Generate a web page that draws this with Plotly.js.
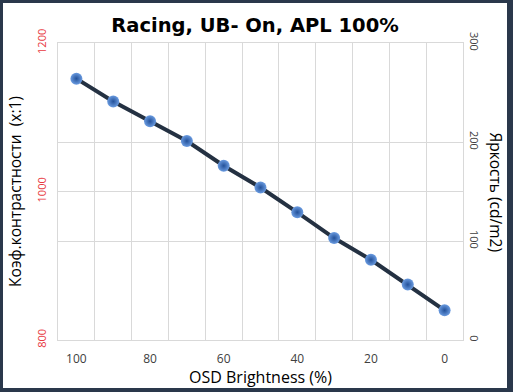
<!DOCTYPE html>
<html>
<head>
<meta charset="utf-8">
<script src="https://cdn.plot.ly/plotly-3.0.1.min.js"></script>
<style>
html,body{margin:0;padding:0;}
#frame{position:absolute;left:0;top:0;width:513px;height:392px;background:#2a384b;}
#chart{position:absolute;left:3px;top:3px;width:504px;height:385px;background:#fff;}
</style>
</head>
<body>
<div id="frame"><div id="chart"></div></div>
<script>
// OSD brightness settings (%)
var osdBrightness = [100, 90, 80, 70, 60, 50, 40, 30, 20, 10, 0];
// Luminance, cd/m2 (right axis)
var luminance = [264, 241, 221, 201, 176, 154, 129, 103, 81, 56, 30];
// Labelled x ticks
var xTickLabels = [100, 80, 60, 40, 20, 0];

var gridColor = '#d9d9d9';
var minorGrid = osdBrightness.slice(0, -1).map(function(v){ return v - 5; });

var trace = {
  x: osdBrightness,
  y: luminance,
  yaxis: 'y2',
  type: 'scatter',
  mode: 'lines+markers',
  line: {color: '#243142', width: 4},
  marker: {
    size: 12,
    color: '#6a9be0',
    gradient: {type: 'radial', color: '#23519a'},
    line: {width: 0}
  },
  showlegend: false,
  hoverinfo: 'x+y'
};

// invisible trace to keep the left axis active
var dummy = {
  x: [osdBrightness[0]], y: [1000], yaxis: 'y', type: 'scatter', mode: 'markers',
  marker: {opacity: 0}, showlegend: false, hoverinfo: 'skip'
};

var layout = {
  width: 504,
  height: 385,
  margin: {l: 55, r: 44, t: 40, b: 48},
  paper_bgcolor: '#ffffff',
  plot_bgcolor: '#ffffff',
  title: {
    text: '<b>Racing, UB- On, APL 100%</b>',
    font: {family: 'DejaVu Sans', size: 19.5, color: '#000'},
    x: 0.5, xref: 'container',
    y: 1 - 22/385, yref: 'container', yanchor: 'middle'
  },
  xaxis: {
    range: [105, -5],
    tickmode: 'array',
    tickvals: xTickLabels,
    ticktext: xTickLabels.map(String),
    showgrid: false,
    zeroline: false,
    showline: true, mirror: true, linecolor: gridColor, linewidth: 1,
    ticks: '',
    ticklabelstandoff: 8,
    tickfont: {family: 'Open Sans', size: 12, color: '#404040'},
    minor: {tickmode: 'array', tickvals: minorGrid, showgrid: true, gridcolor: gridColor, gridwidth: 1, ticks: ''},
    title: {text: 'OSD Brightness (%)', font: {family: 'Open Sans', size: 16, color: '#000'}, standoff: 1}
  },
  yaxis: {
    range: [800, 1200],
    dtick: 200,
    tick0: 800,
    showgrid: true, gridcolor: gridColor,
    zeroline: false,
    showline: true, mirror: true, linecolor: gridColor,
    ticks: '',
    tickangle: -90,
    ticklabelstandoff: 7,
    tickfont: {family: 'Open Sans', size: 11, color: '#e8393f'},
    title: {text: 'Коэф.контрастности  (x:1)', font: {family: 'Open Sans', size: 15.5, color: '#000'}, standoff: 8}
  },
  yaxis2: {
    range: [0, 300],
    dtick: 100,
    tick0: 0,
    overlaying: 'y',
    side: 'right',
    showgrid: true, gridcolor: gridColor,
    zeroline: false,
    showline: false,
    ticks: '',
    tickangle: 90,
    ticklabelstandoff: 4,
    tickfont: {family: 'Open Sans', size: 11, color: '#404040'}
  },
  annotations: [{
    text: 'Яркость (cd/m2)',
    xref: 'paper', yref: 'paper',
    x: 1, xshift: 33, xanchor: 'center',
    y: 0.5, yanchor: 'middle',
    textangle: 90,
    showarrow: false,
    font: {family: 'Open Sans', size: 15.5, color: '#000'}
  }]
};

Plotly.newPlot('chart', [dummy, trace], layout, {displayModeBar: false, staticPlot: true});
</script>
</body>
</html>
